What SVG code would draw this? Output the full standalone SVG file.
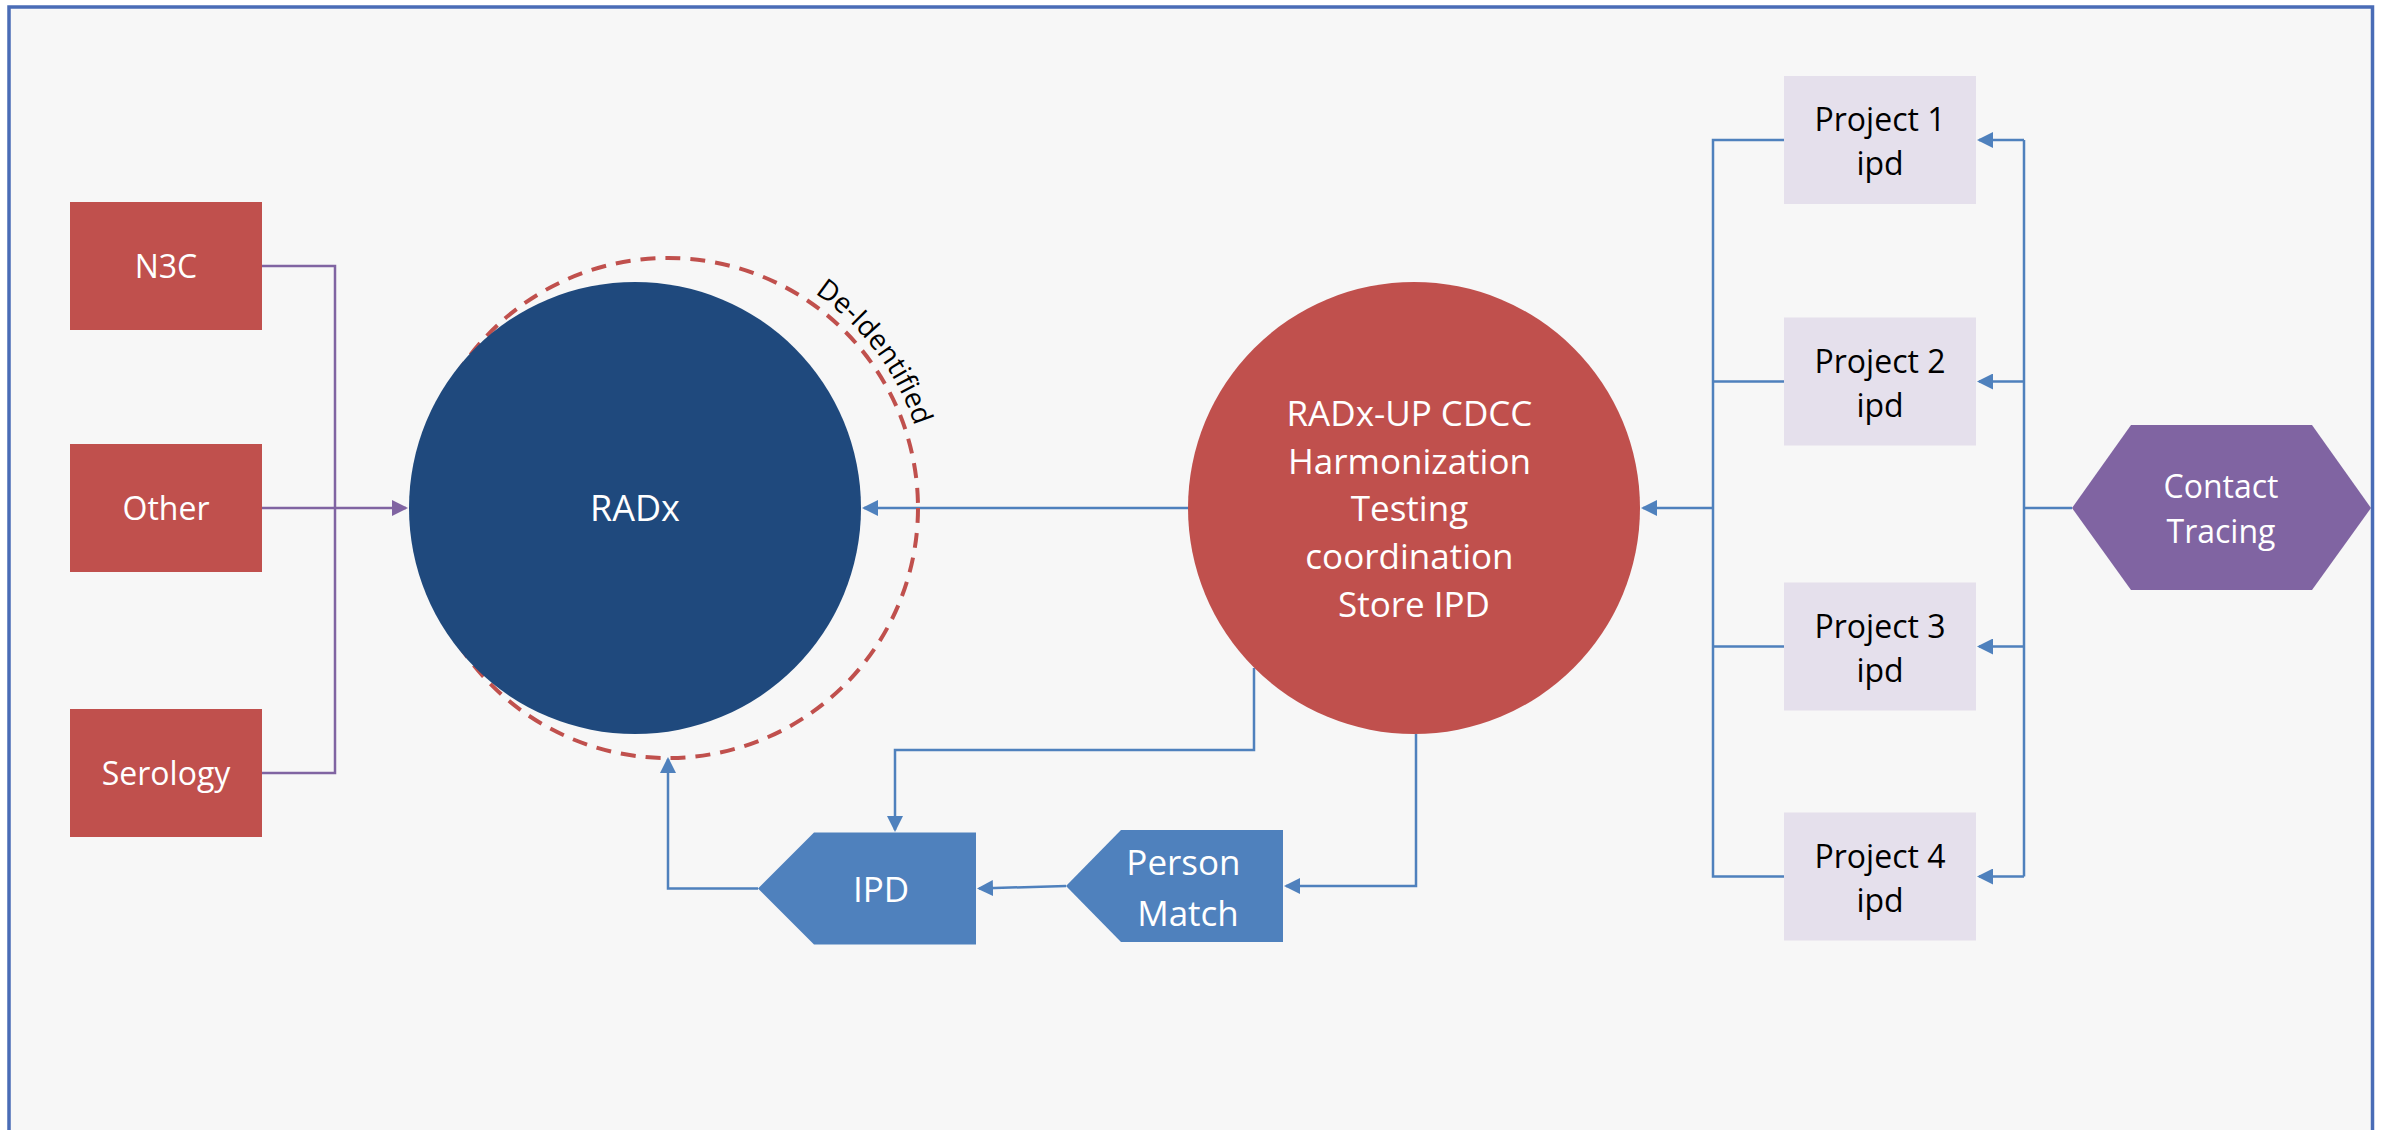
<svg xmlns="http://www.w3.org/2000/svg" width="2386" height="1130" viewBox="0 0 2386 1130">
<style>
  text{font-family:"Open Sans","Liberation Sans",Arial,sans-serif;text-anchor:middle}
  .w{fill:#ffffff}
  .k{fill:#000000}
  .cb{stroke:#4f81bd;stroke-width:2.5;fill:none}
  .cp{stroke:#8064a2;stroke-width:2.5;fill:none}
  .red{fill:#c0504d}
  .proj{fill:#e5e0ec}
  .blue{fill:#4f81bd}
</style>
<defs>
  <marker id="ab" viewBox="0 0 16 16" refX="14" refY="8" markerWidth="16" markerHeight="16" markerUnits="userSpaceOnUse" orient="auto">
    <path d="M0,0 L16,8 L0,16 z" fill="#4f81bd"/>
  </marker>
  <marker id="ap" viewBox="0 0 16 16" refX="14" refY="8" markerWidth="16" markerHeight="16" markerUnits="userSpaceOnUse" orient="auto">
    <path d="M0,0 L16,8 L0,16 z" fill="#8064a2"/>
  </marker>
  <path id="arc" d="M713.1,251.9 A260,260 0 0 1 928,508"/>
</defs>
<rect x="0" y="0" width="2386" height="1130" fill="#ffffff"/>
<rect x="9" y="7" width="2363.5" height="1200" fill="#f7f7f7" stroke="#4a6cb6" stroke-width="3.5"/>

<g id="connectors">
  <path class="cp" d="M262,266 H335 V773 H262"/>
  <path class="cp" d="M262,508 H406" marker-end="url(#ap)"/>
  <path class="cb" d="M1188,508 H864" marker-end="url(#ab)"/>
  <path class="cb" d="M1254,668 V750 H895 V830" marker-end="url(#ab)"/>
  <path class="cb" d="M1416,734 V886 H1286" marker-end="url(#ab)"/>
  <path class="cb" d="M1066,886 L979,888.4" marker-end="url(#ab)"/>
  <path class="cb" d="M758,888.5 H668 V759" marker-end="url(#ab)"/>
  <path class="cb" d="M1784,140 H1713 V876.5 H1784"/>
  <path class="cb" d="M1784,381.5 H1713"/>
  <path class="cb" d="M1784,646.5 H1713"/>
  <path class="cb" d="M1713,508 H1643" marker-end="url(#ab)"/>
  <path class="cb" d="M2072,508 H2024"/>
  <path class="cb" d="M2024,140 V876.5"/>
  <path class="cb" d="M2024,140 H1979" marker-end="url(#ab)"/>
  <path class="cb" d="M2024,381.5 H1979" marker-end="url(#ab)"/>
  <path class="cb" d="M2024,646.5 H1979" marker-end="url(#ab)"/>
  <path class="cb" d="M2024,876.5 H1979" marker-end="url(#ab)"/>
</g>

<g id="n3c">
  <rect class="red" x="70" y="202" width="192" height="128"/>
  <text class="w" x="166" y="278" font-size="32">N3C</text>
</g>
<g id="other">
  <rect class="red" x="70" y="444" width="192" height="128"/>
  <text class="w" x="166" y="520" font-size="32">Other</text>
</g>
<g id="serology">
  <rect class="red" x="70" y="709" width="192" height="128"/>
  <text class="w" x="166" y="785" font-size="32">Serology</text>
</g>

<g id="deidentified">
  <circle cx="668" cy="508" r="250" fill="none" stroke="#c0504d" stroke-width="4" stroke-dasharray="15 10"/>
  <text class="k" font-size="28"><textPath href="#arc" startOffset="53.75%">De-Identified</textPath></text>
</g>

<g id="radx">
  <circle cx="635" cy="508" r="226" fill="#1f497d"/>
  <text class="w" x="635" y="521" font-size="36">RADx</text>
</g>

<g id="cdcc">
  <circle cx="1414" cy="508" r="226" fill="#c0504d"/>
  <text class="w" font-size="35">
    <tspan x="1414" y="426">RADx-UP CDCC</tspan>
    <tspan x="1414" y="474">Harmonization</tspan>
    <tspan x="1414" y="521">Testing</tspan>
    <tspan x="1414" y="569">coordination</tspan>
    <tspan x="1414" y="617">Store IPD</tspan>
  </text>
</g>

<g id="ipd">
  <polygon class="blue" points="758,888.5 814,832.5 976,832.5 976,944.5 814,944.5"/>
  <text class="w" x="881" y="902" font-size="35">IPD</text>
</g>

<g id="person-match">
  <polygon class="blue" points="1066,886 1121,830 1283,830 1283,942 1121,942"/>
  <text class="w" font-size="35">
    <tspan x="1188" y="875">Person</tspan>
    <tspan x="1188" y="926">Match</tspan>
  </text>
</g>

<g id="project1">
  <rect class="proj" x="1784" y="76" width="192" height="128"/>
  <text class="k" font-size="32"><tspan x="1880" y="131">Project 1</tspan><tspan x="1880" y="175">ipd</tspan></text>
</g>
<g id="project2">
  <rect class="proj" x="1784" y="317.5" width="192" height="128"/>
  <text class="k" font-size="32"><tspan x="1880" y="372.5">Project 2</tspan><tspan x="1880" y="416.5">ipd</tspan></text>
</g>
<g id="project3">
  <rect class="proj" x="1784" y="582.5" width="192" height="128"/>
  <text class="k" font-size="32"><tspan x="1880" y="637.5">Project 3</tspan><tspan x="1880" y="681.5">ipd</tspan></text>
</g>
<g id="project4">
  <rect class="proj" x="1784" y="812.5" width="192" height="128"/>
  <text class="k" font-size="32"><tspan x="1880" y="867.5">Project 4</tspan><tspan x="1880" y="911.5">ipd</tspan></text>
</g>

<g id="contact-tracing">
  <polygon fill="#8064a2" points="2072,508 2131,425 2312,425 2371,508 2312,590 2131,590"/>
  <text class="w" font-size="32"><tspan x="2221" y="498">Contact</tspan><tspan x="2221" y="543">Tracing</tspan></text>
</g>
</svg>
